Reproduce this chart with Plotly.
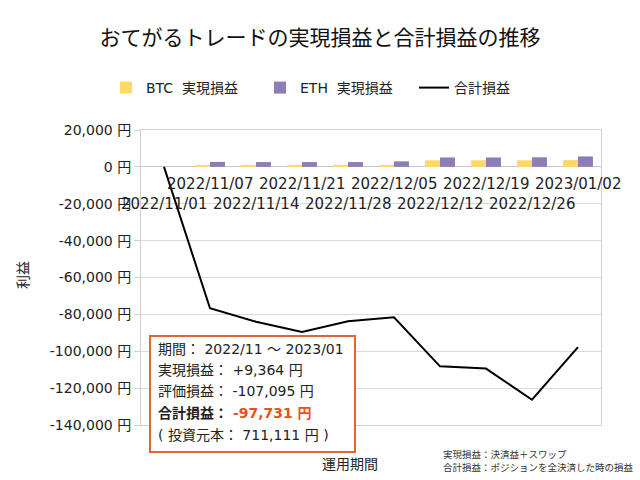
import plotly.graph_objects as go

dates = ["2022/11/01", "2022/11/07", "2022/11/14", "2022/11/21", "2022/11/28",
         "2022/12/05", "2022/12/12", "2022/12/19", "2022/12/26", "2023/01/02"]
btc_realized = [0, 500, 500, 500, 500, 600, 3600, 3600, 3600, 3700]
eth_realized = [0, 2700, 2600, 2600, 2600, 3000, 5100, 5100, 5200, 5664]
total_pl = [0, -76700, -84000, -89500, -83700, -81600, -108200, -109400, -126300, -97731]
ytick_vals = [20000, 0, -20000, -40000, -60000, -80000, -100000, -120000, -140000]

FONT = "DejaVu Sans, Noto Sans CJK JP, sans-serif"
JP = "Noto Sans CJK JP, sans-serif"

# plot area in pixels
PL, PR, PT, PB = 141, 601, 130, 425
W, H = PR - PL, PB - PT
def px(x): return (x - PL) / W
def py(y): return (PB - y) / H

fig = go.Figure()
fig.add_trace(go.Bar(x=dates, y=btc_realized, name="BTC\u00a0 実現損益",
                     marker=dict(color="#FFD966", line=dict(width=0))))
fig.add_trace(go.Bar(x=dates, y=eth_realized, name="ETH\u00a0 実現損益",
                     marker=dict(color="#8E7CB8", line=dict(width=0))))
fig.add_trace(go.Scatter(x=dates, y=total_pl, name="合計損益", mode="lines",
                         line=dict(color="black", width=2)))

annotations = []
# category labels near the zero line, alternating rows
for i, d in enumerate(dates):
    annotations.append(dict(x=d, y=0, xref="x", yref="y", text=d, showarrow=False,
                            yanchor="middle", xanchor="center",
                            yshift=-17 if i % 2 else -37,
                            font=dict(family=FONT, size=15, color="#222")))

# info box lines
box_lines = [
    "期間： 2022/11 ～ 2023/01",
    "実現損益： +9,364 円",
    "評価損益： -107,095 円",
    "<b>合計損益： </b><b><span style='color:#E8501E'>-97,731 円</span></b>",
    "( 投資元本： 711,111 円 )",
]
box_y = [349, 370, 391, 413, 435]
for t, yy in zip(box_lines, box_y):
    annotations.append(dict(x=px(156), y=py(yy), xref="paper", yref="paper", text=t,
                            showarrow=False, xanchor="left", yanchor="middle",
                            font=dict(family=FONT, size=14, color="#222")))

annotations += [
    dict(x=px(22), y=py(275), xref="paper", yref="paper", text="利益", textangle=-90,
         showarrow=False, xanchor="center", yanchor="middle",
         font=dict(family=JP, size=14, color="#222")),
    dict(x=px(350), y=py(463), xref="paper", yref="paper", text="運用期間",
         showarrow=False, xanchor="center", yanchor="middle",
         font=dict(family=JP, size=14, color="#222")),
    dict(x=px(441), y=py(454), xref="paper", yref="paper", text="実現損益：決済益＋スワップ",
         showarrow=False, xanchor="left", yanchor="middle", font=dict(family=JP, size=9.5, color="#333")),
    dict(x=px(441), y=py(467), xref="paper", yref="paper", text="合計損益：ポジションを全決済した時の損益",
         showarrow=False, xanchor="left", yanchor="middle", font=dict(family=JP, size=9.5, color="#333")),
]

fig.update_layout(
    width=640, height=480,
    margin=dict(l=PL, r=640 - PR, t=PT, b=480 - PB),
    paper_bgcolor="white", plot_bgcolor="white",
    title=dict(text="おてがるトレードの実現損益と合計損益の推移", x=0.5, xanchor="center",
               y=1 - 38 / 480, yanchor="middle", font=dict(family=JP, size=21, color="#111")),
    barmode="group", bargap=0.35, bargroupgap=0,
    showlegend=True,
    legend=dict(orientation="h", x=px(106), xanchor="left", y=py(88), yanchor="middle",
                font=dict(family=FONT, size=14, color="#222"), itemwidth=30,
                entrywidth=109, entrywidthmode="pixels",
                bgcolor="rgba(0,0,0,0)"),
    xaxis=dict(type="category", range=[-0.5, len(dates) - 0.5], autorange=False,
               showticklabels=False, showgrid=False, ticks="",
               showline=True, linecolor="#d0d0d0", mirror=True),
    yaxis=dict(range=[-140000, 20000], autorange=False, tickvals=ytick_vals,
               ticktext=[f"{v:,} 円" for v in ytick_vals],
               tickfont=dict(family=FONT, size=14, color="#222"),
               showgrid=True, gridcolor="#d9d9d9", zeroline=True, zerolinecolor="#c8c8c8",
               zerolinewidth=1, showline=True, linecolor="#d0d0d0", mirror=True,
               ticks="outside", ticklen=6, tickcolor="#d0d0d0"),
    annotations=annotations,
    shapes=[dict(type="rect", xref="paper", yref="paper", x0=px(150), x1=px(355),
                 y0=py(452), y1=py(336), line=dict(color="#E2643A", width=2),
                 fillcolor="white", layer="above")],
)

fig.write_html("out.html")
